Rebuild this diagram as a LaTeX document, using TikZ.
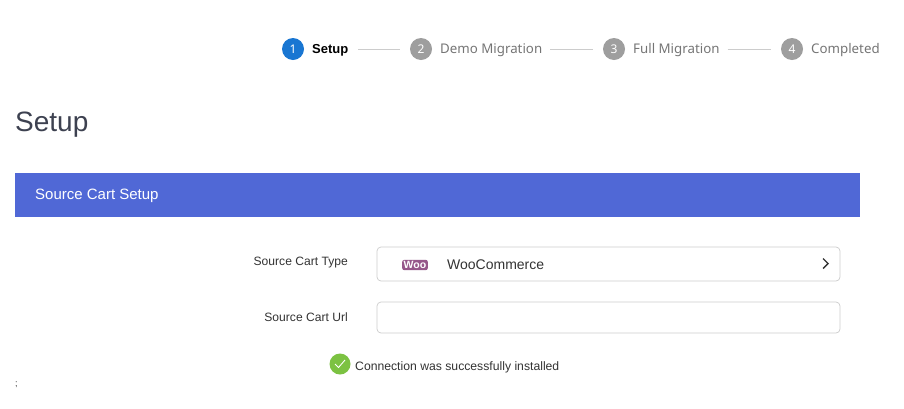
\documentclass[tikz,border=0pt]{standalone}
\usepackage{fontspec}
\setmainfont{Liberation Sans}
\newfontfamily\stepfont{Noto Sans}
\definecolor{stepblue}{HTML}{1976D2}
\definecolor{stepgray}{HTML}{9E9E9E}
\definecolor{steptext}{HTML}{757575}
\definecolor{barblue}{HTML}{5068D6}
\definecolor{headc}{HTML}{3D4150}
\definecolor{boxline}{HTML}{CCCCCC}
\definecolor{wooc}{HTML}{96588A}
\definecolor{okgreen}{HTML}{7CC242}
\definecolor{labelc}{HTML}{333333}
\begin{document}
\begin{tikzpicture}[x=1pt,y=-1pt,
  stepc/.style={circle,fill=#1,minimum size=22pt,inner sep=0pt,text=white,font=\stepfont\fontsize{12}{13}\selectfont},
  steplabel/.style={anchor=west,inner sep=0pt,font=\stepfont\fontsize{13.3}{15}\selectfont,text=steptext},
  stepline/.style={draw=boxline,line width=0.8pt},
  fieldlabel/.style={anchor=east,inner sep=0pt,font=\fontsize{12.1}{14}\selectfont,text=labelc},
  field/.style={draw=boxline,rounded corners=4pt,line width=0.7pt,fill=white}]
\useasboundingbox (0,0) rectangle (904,408);
\fill[white] (0,0) rectangle (904,408);
% stepper
\node[stepc=stepblue] (s1) at (293,49) {1};
\node[steplabel,text=black,font=\bfseries\fontsize{13}{15}\selectfont] (t1) at (312,50) {Setup};
\node[stepc=stepgray] (s2) at (421,49) {2};
\node[steplabel] (t2) at (440,50) {Demo Migration};
\node[stepc=stepgray] (s3) at (614,49) {3};
\node[steplabel] (t3) at (633,50) {Full Migration};
\node[stepc=stepgray] (s4) at (792,49) {4};
\node[steplabel] (t4) at (811,50) {Completed};
\draw[stepline] (358,49) -- (400,49);
\draw[stepline] ([xshift=8pt]t2.east |- s2) -- ([xshift=-10pt]s3.west);
\draw[stepline] ([xshift=8pt]t3.east |- s3) -- ([xshift=-10pt]s4.west);
% heading
\node[anchor=west,inner sep=0pt,font=\fontsize{28}{32}\selectfont,text=headc] (h) at (15,125) {Setup};
% bar
\fill[barblue] (15,173) rectangle (860,217);
\node[anchor=west,inner sep=0pt,text=white,font=\fontsize{15}{17}\selectfont] (bar) at (35,196) {Source Cart Setup};
% fields
\node[fieldlabel] (l1) at (348,263) {Source Cart Type};
\draw[field] (377,247) rectangle (840,281);
\node[fill=wooc,rounded corners=2pt,inner sep=1.5pt,text=white,font=\bfseries\fontsize{10.5}{11}\selectfont] (woo) at (415,265) {Woo};
\node[anchor=west,inner sep=0pt,font=\fontsize{14}{16}\selectfont,text=labelc] (wc) at (447,265) {WooCommerce};
\draw[line width=1.4pt,labelc] (823,258.5) -- (828,263.5) -- (823,268.5);
\node[fieldlabel] (l2) at (348,317) {Source Cart Url};
\draw[field] (377,302) rectangle (840,333);
% status
\node[circle,fill=okgreen,minimum size=21pt,inner sep=0pt] (ok) at (340,364) {};
\draw[white,line width=0.9pt] (335,364) -- (338.5,367.5) -- (345,360);
\node[anchor=west,inner sep=0pt,font=\fontsize{12.2}{14}\selectfont,text=labelc] (msg) at (355,367) {Connection was successfully installed};
\node[anchor=west,inner sep=0pt,font=\fontsize{9}{10}\selectfont,text=labelc] (semi) at (15,385) {;};
\end{tikzpicture}
\end{document}
